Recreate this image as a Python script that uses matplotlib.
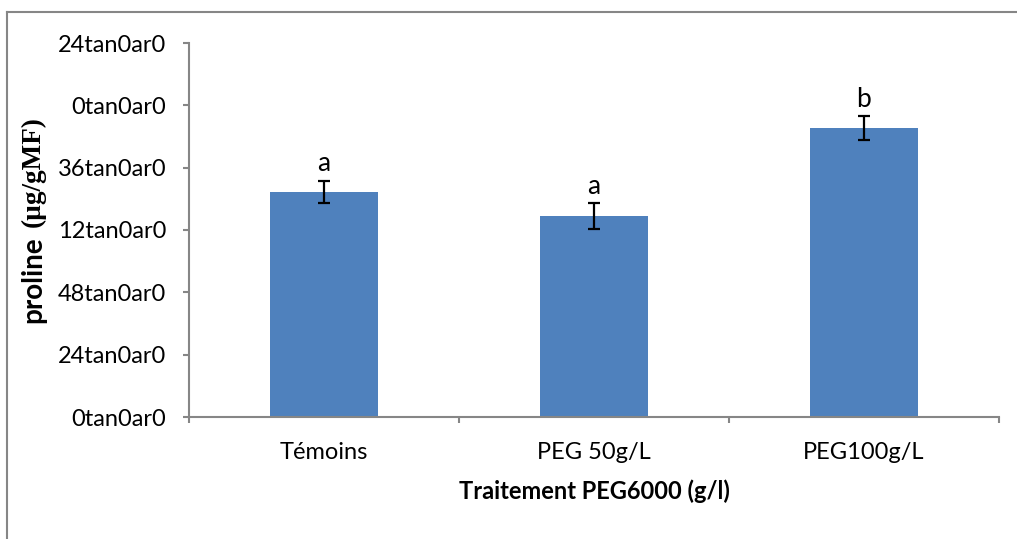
import numpy as np
import matplotlib.pyplot as plt
from matplotlib.lines import Line2D

# data (y in tick units, 0..6)
categories = ['Témoins', 'PEG 50g/L', 'PEG100g/L']
values = [3.61, 3.22, 4.64]
errors = [0.18, 0.21, 0.19]
letters = ['a', 'a', 'b']
tick_labels = ['0tan0ar0', '24tan0ar0', '48tan0ar0', '12tan0ar0',
               '36tan0ar0', '0tan0ar0', '24tan0ar0']

font = 'Lato'
grey = '#868686'
fs = 17

fig = plt.figure(figsize=(10.17, 5.39), dpi=100)
ax = fig.add_axes([189 / 1017, 122 / 539, 810 / 1017, 374 / 539])

x = np.arange(len(categories))
ax.bar(x, values, width=0.4, color='#4f81bd', zorder=2)
ax.errorbar(x, values, yerr=errors, fmt='none', ecolor='black',
            elinewidth=1.6, capsize=4.5, capthick=1.6, zorder=3)

for xi, v, e, l in zip(x, values, errors, letters):
    ax.text(xi, v + e + 0.07, l, ha='center', va='bottom',
            fontsize=19, family=font)

ax.set_xlim(-0.5, 2.5)
ax.set_ylim(0, 6)
ax.set_yticks(range(7))
ax.set_yticklabels(tick_labels, family=font, fontsize=fs)
ax.set_xticks([-0.5, 0.5, 1.5, 2.5], minor=False)
ax.set_xticklabels([])
ax.set_xticks(x, minor=True)
ax.set_xticklabels(categories, minor=True, family=font, fontsize=fs)
ax.tick_params(axis='x', which='minor', length=0, pad=18)
ax.tick_params(axis='x', which='major', length=4.5, color=grey, width=1.5, direction='out')
ax.tick_params(axis='y', length=4.5, color=grey, width=1.5, direction='out', pad=12)

for s in ['top', 'right']:
    ax.spines[s].set_visible(False)
for s in ['left', 'bottom']:
    ax.spines[s].set_color(grey)
    ax.spines[s].set_linewidth(1.5)

ax.set_xlabel('Traitement PEG6000 (g/l)', family=font, fontweight='bold',
              fontsize=fs, labelpad=12)

# y label: sans bold "proline" + serif bold unit
fig.text(33 / 1017, 1 - 280 / 539, 'proline', rotation=90, ha='center', va='center',
         family=font, fontweight='bold', fontsize=20)
fig.text(33 / 1017, 1 - 172 / 539, '(µg/gMF)', rotation=90, ha='center', va='center',
         family='Liberation Serif', fontweight='bold', fontsize=19.5)

# chart area border (top and left visible)
fig.add_artist(Line2D([7 / 1017, 1.0], [1 - 12 / 539, 1 - 12 / 539],
                      transform=fig.transFigure, color=grey, lw=1.5))
fig.add_artist(Line2D([7 / 1017, 7 / 1017], [0, 1 - 12 / 539],
                      transform=fig.transFigure, color=grey, lw=1.5))

fig.savefig('out.png', dpi=100)
